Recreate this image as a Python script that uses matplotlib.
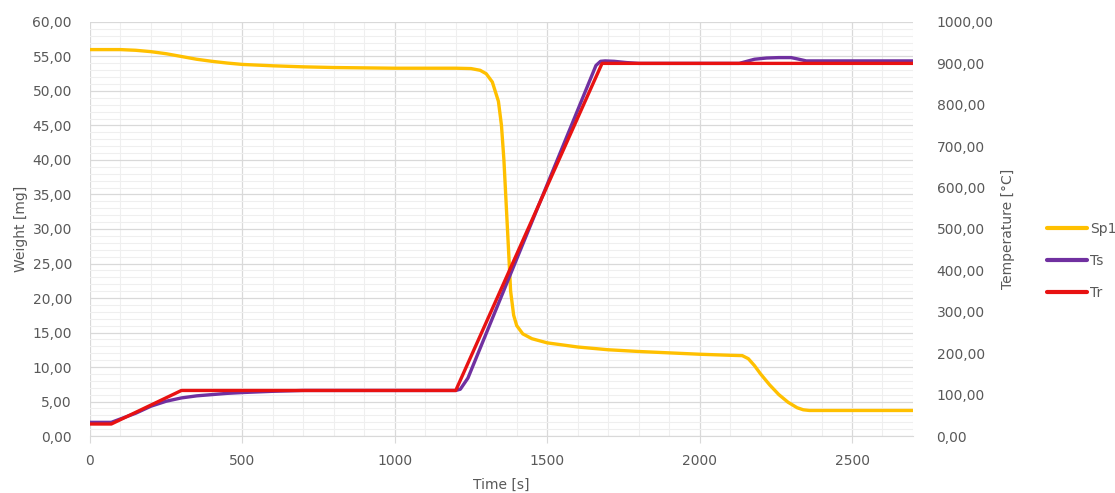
import numpy as np
import matplotlib
matplotlib.use('Agg')
import matplotlib.pyplot as plt
from matplotlib.ticker import MultipleLocator, FuncFormatter

# Sp1 weight curve [mg] vs time [s]
sp1_t = [0, 100, 150, 200, 250, 300, 350, 400, 450, 500, 600, 700, 800, 900,
         1000, 1100, 1200, 1250, 1280, 1300, 1320, 1340, 1350, 1358, 1365, 1372,
         1380, 1390, 1400, 1420, 1450, 1500, 1550, 1600, 1700, 1800, 1900, 2000,
         2100, 2140, 2160, 2180, 2200, 2230, 2260, 2290, 2320, 2340, 2360, 2400,
         2500, 2600, 2700]
sp1_w = [56.0, 56.0, 55.9, 55.7, 55.4, 55.0, 54.6, 54.3, 54.05, 53.85, 53.65,
         53.5, 53.4, 53.35, 53.3, 53.3, 53.3, 53.25, 53.0, 52.5, 51.3, 48.5, 45.0,
         40.0, 34.0, 28.0, 21.0, 17.5, 16.0, 14.8, 14.1, 13.5, 13.2, 12.9, 12.5,
         12.25, 12.05, 11.85, 11.7, 11.65, 11.2, 10.2, 9.0, 7.4, 6.0, 4.9, 4.1,
         3.8, 3.7, 3.7, 3.7, 3.7, 3.7]

# Ts sample temperature [°C]
ts_t = [0, 70, 150, 200, 250, 300, 350, 400, 450, 500, 600, 700, 1200, 1215,
        1240, 1660, 1675, 1690, 1720, 1760, 1800, 2130, 2150, 2180, 2220,
        2260, 2300, 2320, 2350, 2400, 2700]
ts_T = [33, 33, 55, 72, 84, 92, 97, 100, 103, 105, 108, 110, 110, 113, 140,
        895, 905, 906, 905, 902, 900, 900, 904, 910, 913, 914, 914, 911,
        906, 906, 906]

# Tr reference temperature [°C]
tr_t = [0, 70, 300, 1200, 1680, 2700]
tr_T = [29, 29, 110, 110, 900, 900]

labels = ['Sp1', 'Ts', 'Tr']
colors = ['#FFC000', '#7030A0', '#E81212']

grey = '#595959'
fmt2 = FuncFormatter(lambda v, p: ('%.2f' % v).replace('.', ','))

fig = plt.figure(figsize=(11.15, 4.93), dpi=100)
ax = fig.add_axes([0.0807, 0.1156, 0.7381, 0.8398])
ax2 = ax.twinx()

ax.set_xlim(0, 2700)
ax.set_ylim(0, 60)
ax2.set_ylim(0, 1000)

ax.xaxis.set_major_locator(MultipleLocator(500))
ax.xaxis.set_minor_locator(MultipleLocator(100))
ax.yaxis.set_major_locator(MultipleLocator(5))
ax.yaxis.set_minor_locator(MultipleLocator(1))
ax.yaxis.set_major_formatter(fmt2)
ax2.yaxis.set_major_locator(MultipleLocator(100))
ax2.yaxis.set_major_formatter(fmt2)

ax.grid(True, which='major', color='#d9d9d9', linewidth=0.9)
ax.grid(True, which='minor', color='#efefef', linewidth=0.8)
ax.set_axisbelow(True)

for a in (ax, ax2):
    for s in a.spines.values():
        s.set_visible(False)
ax.spines['bottom'].set_visible(True)
ax.spines['bottom'].set_color('#d9d9d9')

ax.tick_params(axis='x', which='major', length=5, color='#d9d9d9', pad=8,
               labelsize=10, labelcolor=grey)
ax.tick_params(axis='x', which='minor', length=0)
ax.tick_params(axis='y', which='both', length=0, pad=13, labelsize=10, labelcolor=grey)
ax2.tick_params(axis='y', length=0, pad=17, labelsize=10, labelcolor=grey)

l1, = ax.plot(sp1_t, sp1_w, color=colors[0], lw=2.4, solid_joinstyle='round')
l2, = ax2.plot(ts_t, ts_T, color=colors[1], lw=2.4, solid_joinstyle='round')
l3, = ax2.plot(tr_t, tr_T, color=colors[2], lw=2.4, solid_joinstyle='round')

ax.set_xlabel('Time [s]', fontsize=10, color=grey, labelpad=7)
ax.set_ylabel('Weight [mg]', fontsize=10, color=grey, labelpad=3)
ax2.set_ylabel('Temperature [°C]', fontsize=10, color=grey, labelpad=5)

leg = fig.legend([l1, l2, l3], labels, loc='center left',
                 bbox_to_anchor=(0.928, 0.47), frameon=False, fontsize=10,
                 handlelength=2.9, handletextpad=0.2, labelspacing=1.3,
                 labelcolor=grey)
for h in leg.get_lines():
    h.set_linewidth(3)
    h.set_solid_capstyle('round')

fig.savefig('out.png', dpi=100)
